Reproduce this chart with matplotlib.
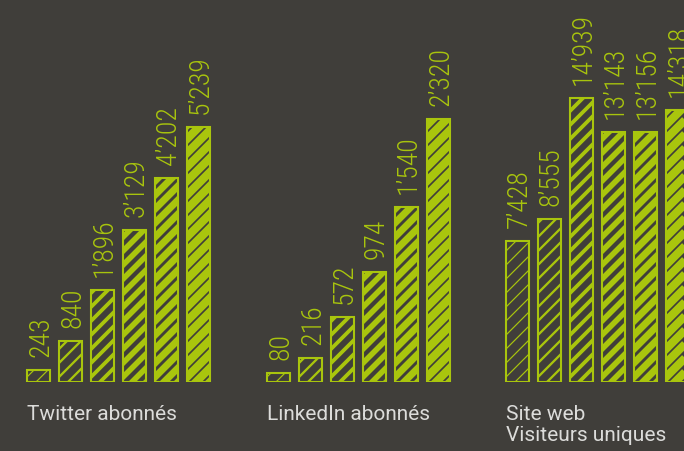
import numpy as np
import matplotlib
matplotlib.use("Agg")
import matplotlib.pyplot as plt
from matplotlib.collections import LineCollection
from matplotlib.transforms import IdentityTransform

# data
panel_labels = ["Twitter abonnés", "LinkedIn abonnés", "Site web\nVisiteurs uniques"]
twitter = [243, 840, 1896, 3129, 4202, 5239]
linkedin = [80, 216, 572, 974, 1540, 2320]
site_web = [7428, 8555, 14939, 13143, 13156, 14318]
panel_values = [twitter, linkedin, site_web]

# style
BG = "#403e3a"
GREEN = "#a9c50d"
TEXT = "#dcdcda"
plt.rcParams['font.family'] = ['Roboto', 'DejaVu Sans']

W, H = 684, 452
fig = plt.figure(figsize=(W / 100, H / 100), dpi=100, facecolor=BG)

panel_left = [22.5, 262.5, 501.5]   # px
panel_ymax = [7870, 3380, 20150]    # per-panel scale
base_px = 69                         # bar baseline, px from bottom
stripe_w = [1.2, 2.3, 3.8, 5.6, 7.0, 8.2]  # px, grows bar by bar
period = 14.0                        # vertical stripe period, px


def fmt(v):
    return f"{v:,}".replace(",", "\u2019")


for left, vals, ymax, lab in zip(panel_left, panel_values, panel_ymax, panel_labels):
    ax = fig.add_axes([left / W, base_px / H, 192 / W, (H - base_px) / H])
    ax.set_facecolor("none")
    ax.set_axis_off()
    x = np.arange(len(vals))
    ax.set_xlim(-0.5, len(vals) - 0.5)
    ax.set_ylim(0, ymax)

    bars = ax.bar(x, vals, width=0.72, facecolor="none", edgecolor=GREEN,
                  linewidth=1.5, zorder=3)

    for i, b in enumerate(bars):
        # diagonal stripes, drawn in pixel space and clipped to the bar
        x0, y0, x1, y1 = b.get_window_extent().extents
        segs = []
        c = y0 - x1 - period
        while c < y1 - x0 + period:
            segs.append([(x0 - 10, x0 - 10 + c), (x1 + 10, x1 + 10 + c)])
            c += period
        lc = LineCollection(segs, colors=GREEN, linewidths=stripe_w[i] * 0.72,
                            transform=IdentityTransform(), zorder=2)
        ax.add_collection(lc, autolim=False)
        lc.set_clip_path(b)

        ax.annotate(fmt(vals[i]), xy=(x[i], vals[i]), xytext=(2, 14),
                    textcoords="offset pixels", rotation=90, ha="center",
                    va="bottom", color=GREEN, fontsize=20, fontweight="light",
                    family=['Roboto Condensed', 'Liberation Sans Narrow', 'Roboto'],
                    fontstretch="condensed", annotation_clip=False)

    fig.text((left + 4.5) / W, (H - 405) / H, lab, color=TEXT, fontsize=15,
             ha="left", va="top", linespacing=1.15)

fig.savefig("out.png", dpi=100, facecolor=BG)
